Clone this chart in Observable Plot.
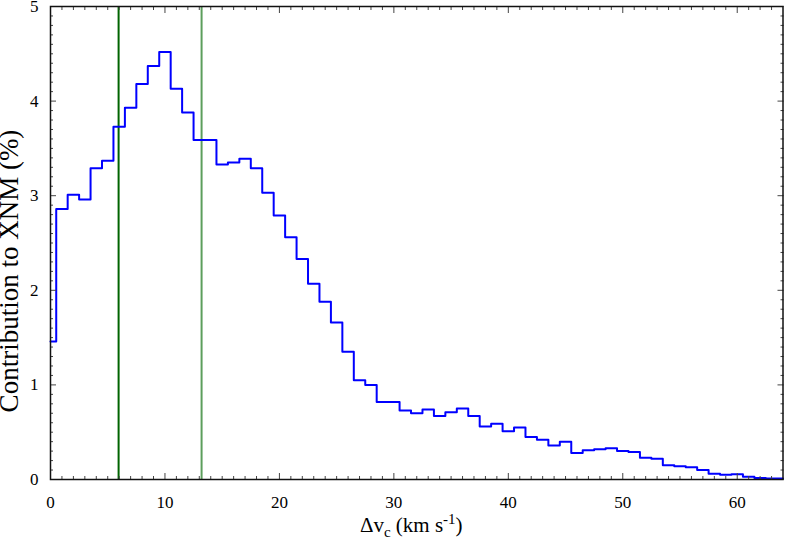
<!DOCTYPE html>
<html><head><meta charset="utf-8">
<script src="https://cdn.jsdelivr.net/npm/d3@7"></script>
<script src="https://cdn.jsdelivr.net/npm/@observablehq/plot@0.6"></script>
<style>
html,body{margin:0;padding:0;background:#fff;}
#chart svg{display:block;}
</style>
</head><body><div id="chart"></div>
<script>
// Bin centres (km/s) and contribution to XNM (%)
const binCenters = [0,1,2,3,4,5,6,7,8,9,10,11,12,13,14,15,16,17,18,19,20,21,22,23,24,25,26,27,28,29,30,31,32,33,34,35,36,37,38,39,40,41,42,43,44,45,46,47,48,49,50,51,52,53,54,55,56,57,58,59,60,61,62,63,64];
const contribution = [1.46,2.86,3.01,2.96,3.29,3.37,3.73,3.93,4.18,4.37,4.52,4.13,3.88,3.59,3.59,3.33,3.35,3.39,3.29,3.03,2.79,2.56,2.33,2.07,1.88,1.66,1.35,1.05,1.00,0.82,0.82,0.73,0.70,0.74,0.67,0.71,0.75,0.67,0.56,0.59,0.51,0.55,0.45,0.42,0.36,0.40,0.28,0.31,0.32,0.33,0.30,0.29,0.23,0.22,0.15,0.14,0.13,0.10,0.06,0.05,0.055,0.03,0.015,0.01,0.01];
const markerLineDark = [5.95];
const markerLineLight = [13.2];
const xMajorTicks = [0,10,20,30,40,50,60];
const xMinorTicks = [1,2,3,4,5,6,7,8,9,11,12,13,14,15,16,17,18,19,21,22,23,24,25,26,27,28,29,31,32,33,34,35,36,37,38,39,41,42,43,44,45,46,47,48,49,51,52,53,54,55,56,57,58,59,61,62,63];
const yMajorTicks = [0,1,2,3,4,5];
const yMinorTicks = [0.1,0.2,0.3,0.4,0.5,0.6,0.7,0.8,0.9,1.1,1.2,1.3,1.4,1.5,1.6,1.7,1.8,1.9,2.1,2.2,2.3,2.4,2.5,2.6,2.7,2.8,2.9,3.1,3.2,3.3,3.4,3.5,3.6,3.7,3.8,3.9,4.1,4.2,4.3,4.4,4.5,4.6,4.7,4.8,4.9];
const yLabel = "Contribution to XNM (%)";

const data = binCenters.map((x, i) => ({x, y: contribution[i]}));

const W = 785, H = 543;
const mL = 50, mR = 2.5, mT = 6, mB = 64;
const tickColor = "#444";
const intFmt = d => String(d);
const serif = "'Liberation Serif', 'Times New Roman', Times, 'DejaVu Serif', serif";

const plot = Plot.plot({
  width: W, height: H,
  marginLeft: mL, marginRight: mR, marginTop: mT, marginBottom: mB,
  style: {fontSize: "17px", background: "#fff", color: "#000"},
  x: {domain: [0, 64]},
  y: {domain: [0, 5]},
  marks: [
    Plot.ruleX(markerLineDark, {stroke: "#006400", strokeWidth: 2}),
    Plot.ruleX(markerLineLight, {stroke: "#5c9e5c", strokeWidth: 2}),
    Plot.line(data, {x: "x", y: "y", curve: "step", stroke: "#0000ff", strokeWidth: 2}),
    // inward ticks on all sides
    Plot.axisX({anchor: "bottom", ticks: xMinorTicks, tickSize: -3, text: null, label: null, stroke: tickColor}),
    Plot.axisX({anchor: "top", ticks: xMinorTicks, tickSize: -3, text: null, label: null, stroke: tickColor}),
    Plot.axisX({anchor: "bottom", ticks: xMajorTicks, tickSize: -6, text: null, label: null, stroke: tickColor}),
    Plot.axisX({anchor: "top", ticks: xMajorTicks, tickSize: -6, text: null, label: null, stroke: tickColor}),
    Plot.axisX({anchor: "bottom", ticks: xMajorTicks, tickSize: 0, tickPadding: 16, tickFormat: intFmt, label: null, fontFamily: serif}),
    Plot.axisY({anchor: "left", ticks: yMinorTicks, tickSize: -3, text: null, label: null, stroke: tickColor}),
    Plot.axisY({anchor: "right", ticks: yMinorTicks, tickSize: -3, text: null, label: null, stroke: tickColor}),
    Plot.axisY({anchor: "left", ticks: yMajorTicks, tickSize: -6, text: null, label: null, stroke: tickColor}),
    Plot.axisY({anchor: "right", ticks: yMajorTicks, tickSize: -6, text: null, label: null, stroke: tickColor}),
    Plot.axisY({anchor: "left", ticks: yMajorTicks, tickSize: 0, tickPadding: 12, tickFormat: intFmt, label: null, fontFamily: serif}),
    Plot.frame({stroke: "#111", strokeWidth: 1.5}),
    Plot.text([yLabel], {frameAnchor: "left", rotate: -90, textAnchor: "middle", dx: -33, dy: 28, fontSize: 27, fontFamily: serif, lineAnchor: "bottom", fill: "#000"})
  ]
});

// x-axis label with subscript and superscript
const svg = d3.select(plot);
svg.attr("font-family", serif).style("font-family", serif, "important");
const cx = (mL + (W - mR)) / 2 - 5;
const xl = svg.append("text")
  .attr("x", cx).attr("y", 532)
  .attr("text-anchor", "middle")
  .attr("font-size", 21)
  .attr("font-family", serif)
  .attr("fill", "#000");
xl.append("tspan").text("Δv");
xl.append("tspan").attr("font-size", 15).attr("dy", 5).text("c");
xl.append("tspan").attr("dy", -5).text(" (km s");
xl.append("tspan").attr("font-size", 15).attr("dy", -8).text("-1");
xl.append("tspan").attr("dy", 8).text(")");
svg.selectAll("text").style("font-family", serif, "important");

document.getElementById("chart").appendChild(plot);
</script>
</body></html>
